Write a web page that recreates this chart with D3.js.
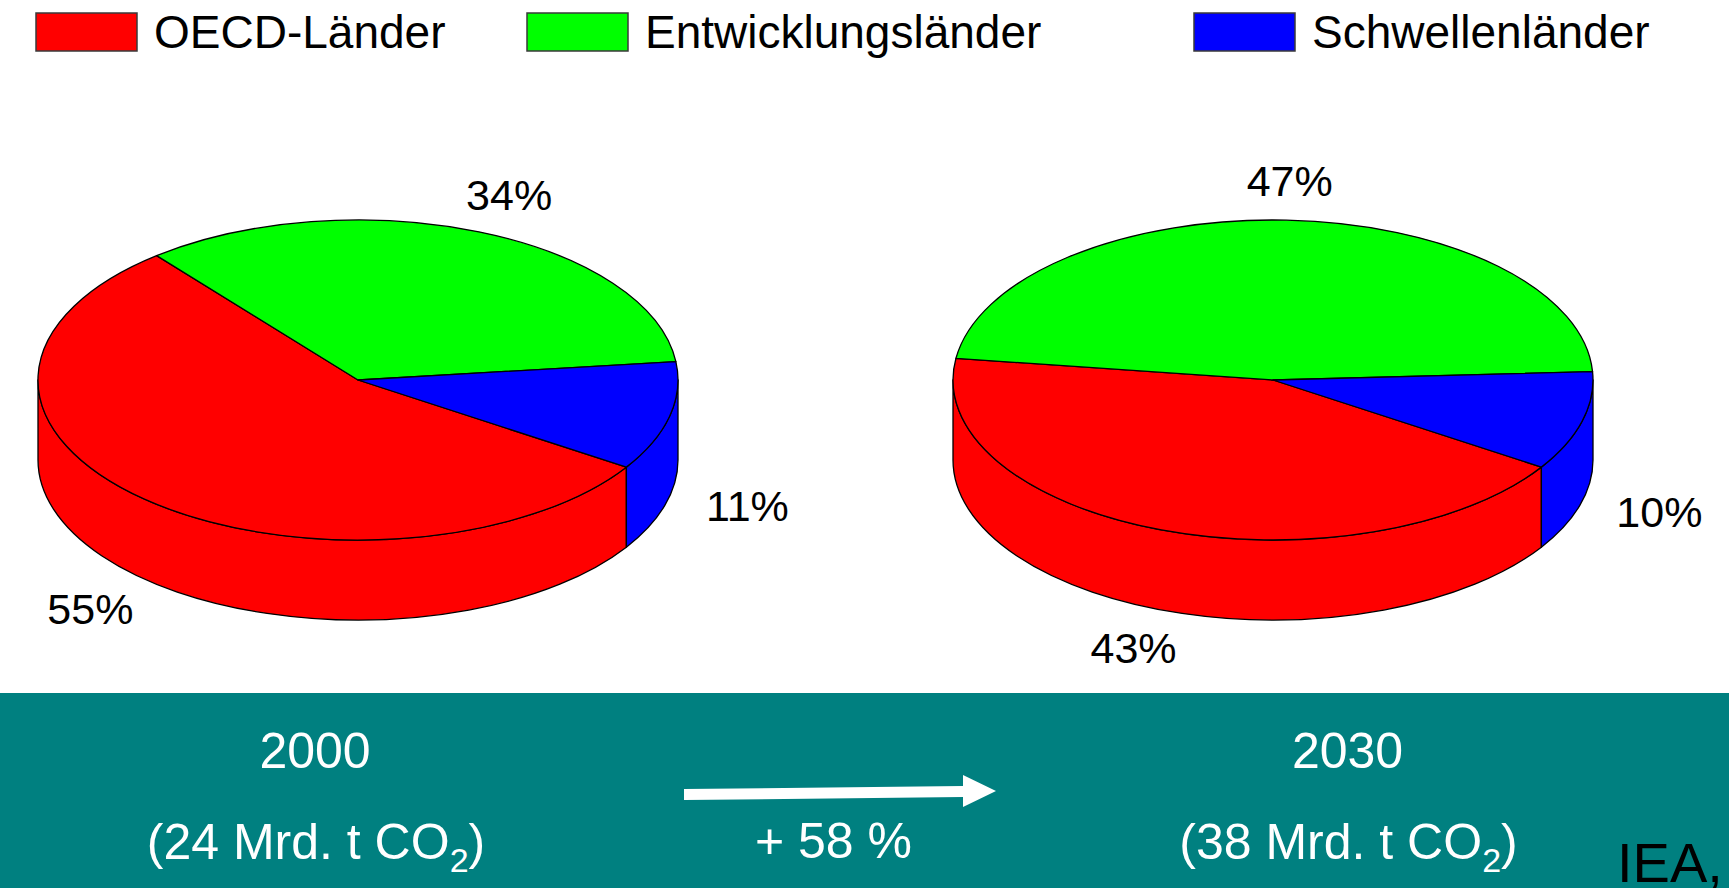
<!DOCTYPE html>
<html>
<head>
<meta charset="utf-8">
<script src="https://cdn.jsdelivr.net/npm/d3@7"></script>
<style>
  html, body { margin: 0; padding: 0; background: #ffffff; overflow: hidden; }
  svg { display: block; }
  text { font-family: "Liberation Sans", Arial, "DejaVu Sans", sans-serif; }
</style>
</head>
<body>
<svg id="chart" width="1729" height="888"></svg>
<script>
// ---- Data ----
const categories = ["OECD-Länder", "Entwicklungsländer", "Schwellenländer"];
const categoryColors = ["#ff0000", "#00ff00", "#0000ff"];
const years = ["2000", "2030"];
const shares2000 = [55, 34, 11];
const shares2030 = [43, 47, 10];
const totals = ["24", "38"];
const growthLabel = "+ 58 %";
const sourceLabel = "IEA,";

// ---- Layout ----
const W = 1729, H = 888;
const pieCentersX = [358, 1273];
const pieCy = 380, rx = 320, ry = 160, depth = 80;
const startDeg = 123;
const legendX = [36, 527, 1194];
const bandTop = 693;
const yearCentersX = [315, 1347.5];

const svg = d3.select("#chart");
const color = d3.scaleOrdinal().domain(categories).range(categoryColors);

// ---- Legend ----
const legend = svg.append("g");
categories.forEach((c, i) => {
  legend.append("rect")
    .attr("x", legendX[i]).attr("y", 13)
    .attr("width", 101).attr("height", 38)
    .attr("fill", color(c)).attr("stroke", "#3a3a3a").attr("stroke-width", 1.5);
  legend.append("text")
    .attr("x", legendX[i] + 118).attr("y", 48)
    .attr("font-size", 46).attr("fill", "#000")
    .text(c);
});

// ---- Pies ----
const pie = d3.pie().sort(null).value(d => d)
  .startAngle(startDeg * Math.PI / 180)
  .endAngle(startDeg * Math.PI / 180 + 2 * Math.PI);

function drawPie(values, cx) {
  const g = svg.append("g");
  const arcs = pie(values);
  const pt = (a, dy = 0) => [cx + rx * Math.sin(a), pieCy - ry * Math.cos(a) + dy];
  const f = p => p[0].toFixed(2) + "," + p[1].toFixed(2);

  // side walls (front half only)
  arcs.forEach((d, i) => {
    for (let k = -1; k <= 2; k++) {
      const lo = Math.PI / 2 + 2 * Math.PI * k, hi = 3 * Math.PI / 2 + 2 * Math.PI * k;
      const s = Math.max(d.startAngle, lo), e = Math.min(d.endAngle, hi);
      if (e - s > 1e-6) {
        const path = `M${f(pt(s))}A${rx},${ry} 0 0 1 ${f(pt(e))}L${f(pt(e, depth))}A${rx},${ry} 0 0 0 ${f(pt(s, depth))}Z`;
        g.append("path").attr("d", path)
          .attr("fill", color(categories[i]))
          .attr("stroke", "#000").attr("stroke-width", 1.3).attr("stroke-linejoin", "round");
      }
    }
  });

  // top faces
  arcs.forEach((d, i) => {
    const large = (d.endAngle - d.startAngle) > Math.PI ? 1 : 0;
    const path = `M${cx},${pieCy}L${f(pt(d.startAngle))}A${rx},${ry} 0 ${large} 1 ${f(pt(d.endAngle))}Z`;
    g.append("path").attr("d", path)
      .attr("fill", color(categories[i]))
      .attr("stroke", "#000").attr("stroke-width", 1.3).attr("stroke-linejoin", "round");
  });

  // labels
  const fs = 43;
  arcs.forEach((d, i) => {
    const m = (d.startAngle + d.endAngle) / 2;
    const front = Math.cos(m) < 0 ? depth : 0;
    const x = cx + 1.25 * rx * Math.sin(m);
    const y = pieCy - 1.25 * ry * Math.cos(m) + front;
    g.append("text")
      .attr("x", x).attr("y", y + 0.36 * fs)
      .attr("text-anchor", "middle")
      .attr("font-size", fs).attr("fill", "#000")
      .text(d.data + "%");
  });
}
drawPie(shares2000, pieCentersX[0]);
drawPie(shares2030, pieCentersX[1]);

// ---- Bottom band ----
svg.append("rect").attr("x", 0).attr("y", bandTop).attr("width", W).attr("height", H - bandTop)
  .attr("fill", "#008080");

years.forEach((yr, i) => {
  svg.append("text")
    .attr("x", yearCentersX[i]).attr("y", 768)
    .attr("text-anchor", "middle").attr("font-size", 50).attr("fill", "#fff")
    .text(yr);
  const t = svg.append("text")
    .attr("x", yearCentersX[i] + 1).attr("y", 859)
    .attr("text-anchor", "middle").attr("font-size", 50).attr("fill", "#fff");
  t.append("tspan").text("(" + totals[i] + " Mrd. t CO");
  t.append("tspan").attr("font-size", 34).attr("dy", 13).text("2");
  t.append("tspan").attr("dy", -13).text(")");
});

// arrow
svg.append("path")
  .attr("d", "M684,789L963,786L963,775L996,791L963,807L963,797L684,800Z")
  .attr("fill", "#fff");

svg.append("text")
  .attr("x", 833.5).attr("y", 858)
  .attr("text-anchor", "middle").attr("font-size", 50).attr("fill", "#fff")
  .text(growthLabel);

svg.append("text")
  .attr("x", 1617).attr("y", 882)
  .attr("font-size", 56).attr("fill", "#000")
  .text(sourceLabel);
</script>
</body>
</html>
